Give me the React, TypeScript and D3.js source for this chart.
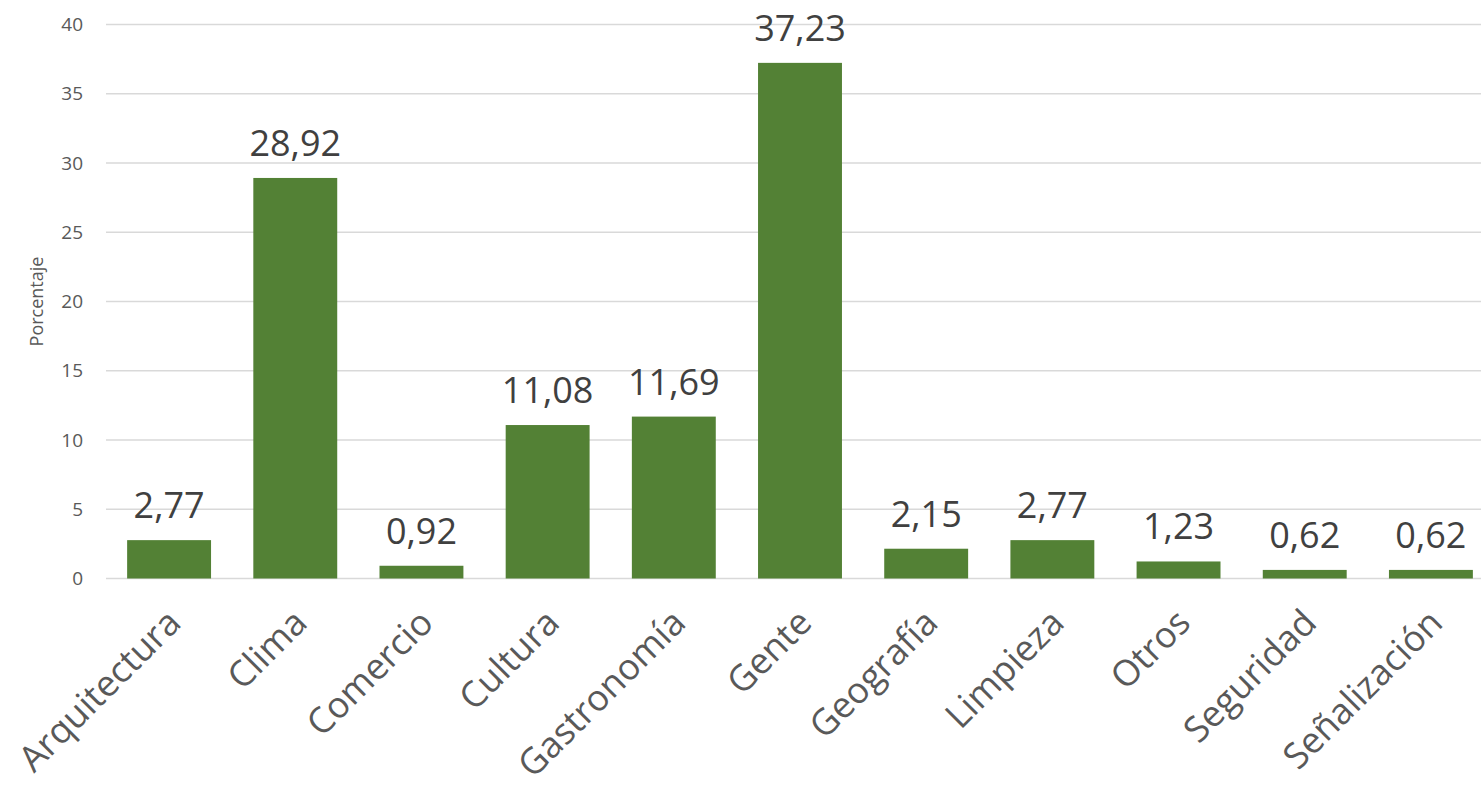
import React from "react";
import * as d3 from "d3";

const categories = ["Arquitectura", "Clima", "Comercio", "Cultura", "Gastronomía", "Gente", "Geografía", "Limpieza", "Otros", "Seguridad", "Señalización"];
const values = [2.77, 28.92, 0.92, 11.08, 11.69, 37.23, 2.15, 2.77, 1.23, 0.62, 0.62];
const yTicks = [0, 5, 10, 15, 20, 25, 30, 35, 40];
const yTitle = "Porcentaje";

const W = 1481, H = 791;
const left = 106, right = 1494, top = 24.5, bottom = 578.5;
const font = "'Open Sans', 'Noto Sans', sans-serif";

export default function App() {
  const x = d3.scaleBand<string>().domain(categories).range([left, right]).paddingInner(0.335).paddingOuter(0.1675);
  const y = d3.scaleLinear().domain([0, 40]).range([bottom, top]);
  const fmt = (v: number) => v.toFixed(2).replace(".", ",");
  return (
    <svg width={W} height={H} style={{ position: "absolute", left: 0, top: 0, background: "#fff" }} fontFamily={font}>
      {yTicks.map(t => (
        <g key={t}>
          <line x1={left} x2={W} y1={y(t)} y2={y(t)} stroke="#d9d9d9" strokeWidth={1.5} />
          <text x={83} y={y(t)} dy="0.35em" textAnchor="end" fontSize={19} fill="#595959">{t}</text>
        </g>
      ))}
      <text transform={`translate(43,${(top + bottom) / 2}) rotate(-90)`} textAnchor="middle" fontSize={18} fill="#595959">{yTitle}</text>
      {categories.map((c, i) => (
        <g key={c}>
          <rect x={x(c)!} y={y(values[i])} width={x.bandwidth()} height={y(0) - y(values[i])} fill="#538135" />
          <text x={x(c)! + x.bandwidth() / 2} y={y(values[i]) - 22} textAnchor="middle" fontSize={36} fill="#404040">{fmt(values[i])}</text>
          <text transform={`translate(${x(c)! + x.bandwidth() / 2 - 4},${607}) rotate(-45)`} textAnchor="end" dy="0.7em" fontSize={36} fill="#595959">{c}</text>
        </g>
      ))}
    </svg>
  );
}
